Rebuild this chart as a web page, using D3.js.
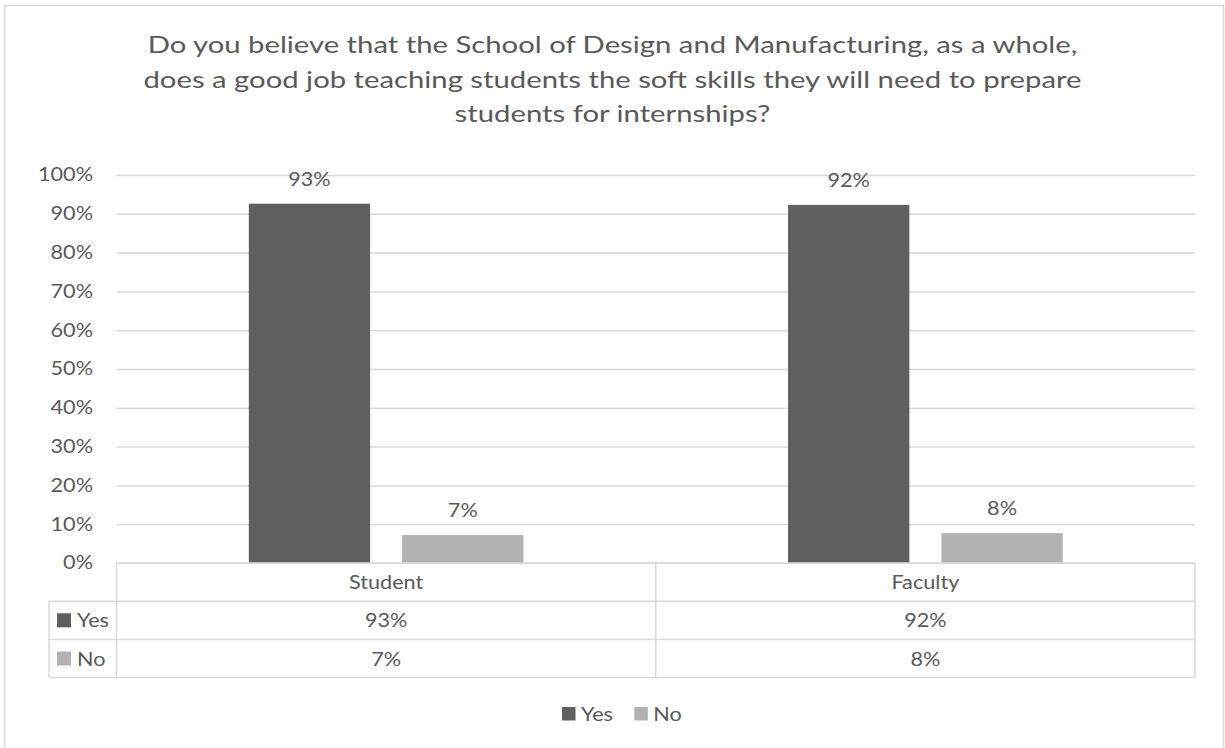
<!DOCTYPE html>
<html>
<head>
<meta charset="utf-8">
<script src="https://cdn.jsdelivr.net/npm/d3@7"></script>
<style>
  html, body { margin: 0; padding: 0; background: #ffffff; }
  svg { display: block; }
  text { font-family: Lato, "Open Sans", sans-serif; fill: #595959; }
</style>
</head>
<body>
<svg id="chart" width="1225" height="748"></svg>
<script>
// Survey responses
const categories = ["Student", "Faculty"];
const seriesNames = ["Yes", "No"];
const yesValues = [0.926, 0.923];
const noValues = [0.072, 0.077];
const yTicks = [0, 0.1, 0.2, 0.3, 0.4, 0.5, 0.6, 0.7, 0.8, 0.9, 1.0];
const titleLines = [
  "Do you believe that the School of Design and Manufacturing, as a whole,",
  "does a good job teaching students the soft skills they will need to prepare",
  "students for internships?"
];

const seriesValues = { Yes: yesValues, No: noValues };
const colors = { Yes: "#5f5f5f", No: "#b2b2b2" };
const gridColor = "#d9d9d9";
const pct = d3.format(".0%");
const labelSize = "18.5px";
const labelWiden = 1.17;

// Widen glyphs horizontally by a fixed factor (the typeface runs wide)
function widen(sel, factor) {
  sel.each(function () {
    const len = this.getComputedTextLength();
    d3.select(this)
      .attr("textLength", len * factor)
      .attr("lengthAdjust", "spacingAndGlyphs");
  });
  return sel;
}

const svg = d3.select("#chart");
const W = 1225;

// Chart frame
svg.append("rect")
  .attr("x", 4.5).attr("y", 5.5)
  .attr("width", 1219).attr("height", 760)
  .attr("fill", "#ffffff")
  .attr("stroke", gridColor).attr("stroke-width", 1.5);

// Title
svg.append("g").selectAll("text")
  .data(titleLines)
  .join("text")
  .attr("x", W / 2)
  .attr("y", (d, i) => 53 + i * 34.5)
  .attr("text-anchor", "middle")
  .style("font-size", "23.5px")
  .text(d => d)
  .call(widen, 1.245);

// Scales
const plotLeft = 116.5, plotRight = 1195;
const y = d3.scaleLinear().domain([0, 1]).range([563, 175]);
const x = d3.scaleBand().domain(categories).range([plotLeft, plotRight]).padding(0);
const xs = d3.scaleBand().domain(seriesNames).range([0, x.bandwidth()])
  .paddingInner(0.209).paddingOuter(0.863);

// Gridlines and y-axis labels
const yAxis = d3.axisLeft(y)
  .tickValues(yTicks)
  .tickFormat(pct)
  .tickSizeInner(-(plotRight - plotLeft))
  .tickSizeOuter(0)
  .tickPadding(23.5);

const yg = svg.append("g")
  .attr("transform", `translate(${plotLeft},0)`)
  .call(yAxis);
yg.select(".domain").remove();
yg.selectAll(".tick line").attr("stroke", gridColor).attr("stroke-width", 1.5);
yg.selectAll(".tick text")
  .attr("fill", "#595959")
  .style("font-family", "Lato, 'Open Sans', sans-serif")
  .style("font-size", labelSize)
  .call(widen, labelWiden);

// Bars
const rows = [];
categories.forEach((c, i) => {
  seriesNames.forEach(s => rows.push({ cat: c, series: s, value: seriesValues[s][i] }));
});

svg.append("g").selectAll("rect")
  .data(rows)
  .join("rect")
  .attr("x", d => x(d.cat) + xs(d.series))
  .attr("y", d => y(d.value))
  .attr("width", xs.bandwidth())
  .attr("height", d => y(0) - y(d.value))
  .attr("fill", d => colors[d.series]);

// Data labels
svg.append("g").selectAll("text")
  .data(rows)
  .join("text")
  .attr("x", d => x(d.cat) + xs(d.series) + xs.bandwidth() / 2)
  .attr("y", d => y(d.value) - 18)
  .attr("text-anchor", "middle")
  .style("font-size", labelSize)
  .text(d => pct(d.value))
  .call(widen, labelWiden);

// Data table below the axis
const headerTop = 563, rowH = 38.2, legendLeft = 49;
const tbl = svg.append("g").attr("stroke", gridColor).attr("stroke-width", 1.5);
// horizontal rules
tbl.append("line").attr("x1", plotLeft).attr("x2", plotRight).attr("y1", headerTop).attr("y2", headerTop);
[1, 2, 3].forEach(k => {
  tbl.append("line").attr("x1", legendLeft).attr("x2", plotRight)
    .attr("y1", headerTop + k * rowH).attr("y2", headerTop + k * rowH);
});
// vertical rules
tbl.append("line").attr("x1", legendLeft).attr("x2", legendLeft)
  .attr("y1", headerTop + rowH).attr("y2", headerTop + 3 * rowH);
[plotLeft, ...categories.map(c => x(c) + x.bandwidth())].forEach(xv => {
  tbl.append("line").attr("x1", xv).attr("x2", xv)
    .attr("y1", headerTop).attr("y2", headerTop + 3 * rowH);
});

// header labels
svg.append("g").selectAll("text")
  .data(categories)
  .join("text")
  .attr("x", d => x(d) + x.bandwidth() / 2)
  .attr("y", headerTop + rowH / 2 + 7)
  .attr("text-anchor", "middle")
  .style("font-size", labelSize)
  .text(d => d)
  .call(widen, labelWiden);

// series rows
seriesNames.forEach((s, r) => {
  const cy = headerTop + (r + 1) * rowH + rowH / 2;
  svg.append("rect")
    .attr("x", 57).attr("y", cy - 7)
    .attr("width", 14).attr("height", 14)
    .attr("fill", colors[s]);
  svg.append("text")
    .attr("x", 77).attr("y", cy + 7)
    .style("font-size", labelSize)
    .text(s)
    .call(widen, labelWiden);
  svg.append("g").selectAll("text")
    .data(categories)
    .join("text")
    .attr("x", d => x(d) + x.bandwidth() / 2)
    .attr("y", cy + 7)
    .attr("text-anchor", "middle")
    .style("font-size", labelSize)
    .text((d, i) => pct(seriesValues[s][i]))
    .call(widen, labelWiden);
});

// Bottom legend
const legend = svg.append("g").attr("transform", "translate(562,714)");
let lx = 0;
seriesNames.forEach(s => {
  const item = legend.append("g").attr("transform", `translate(${lx},0)`);
  item.append("rect").attr("x", 0).attr("y", -7).attr("width", 13.5).attr("height", 13.5)
    .attr("fill", colors[s]);
  const t = item.append("text").attr("x", 19).attr("y", 6.5)
    .style("font-size", labelSize).text(s)
    .call(widen, labelWiden);
  lx += 19 + t.node().getComputedTextLength() * labelWiden + 16;
});
</script>
</body>
</html>
